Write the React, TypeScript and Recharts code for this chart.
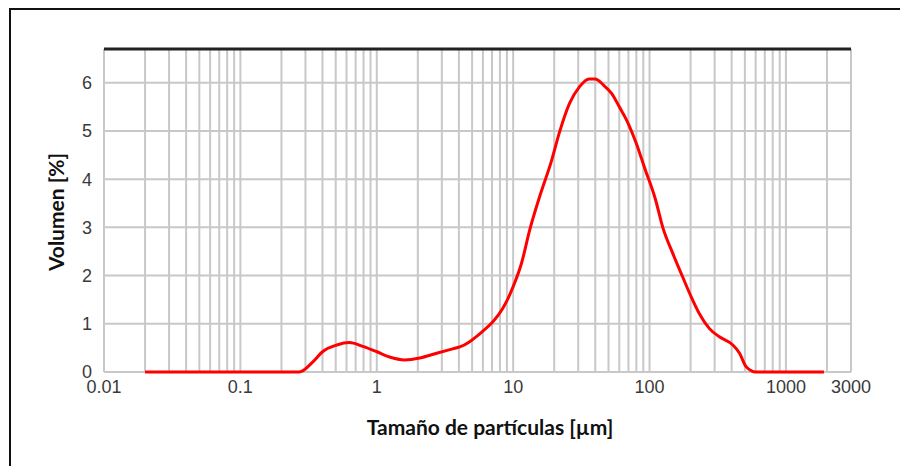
import React from 'react';
import { LineChart, Line, XAxis, YAxis, CartesianGrid, ReferenceLine } from 'recharts';

const particleSizes = [
  0.02, 0.27, 0.34, 0.4, 0.51, 0.63, 0.79, 1.0, 1.24, 1.6, 2.07, 2.75, 3.6, 4.06, 4.8, 5.4, 6.0, 7.1, 8.4,
  10, 11.5, 13.2, 15.6, 19.1, 21.9, 25.9, 30.7, 36, 40, 46, 53, 60, 68, 80, 95, 100, 110, 125, 148, 175,
  202, 232, 275, 325, 408, 457, 511, 604, 1900,
];
const volumes = [
  0, 0, 0.21, 0.42, 0.56, 0.61, 0.53, 0.42, 0.31, 0.25, 0.29, 0.39, 0.48, 0.52, 0.63, 0.74, 0.85, 1.04, 1.32,
  1.77, 2.25, 2.94, 3.63, 4.38, 4.98, 5.57, 5.92, 6.08, 6.08, 5.95, 5.77, 5.5, 5.22, 4.74, 4.12, 3.95, 3.6,
  3.0, 2.46, 1.97, 1.56, 1.21, 0.9, 0.73, 0.56, 0.39, 0.11, 0, 0,
];

const gridTicksX = [
  0.01, 0.02, 0.03, 0.04, 0.05, 0.06, 0.07, 0.08, 0.09,
  0.1, 0.2, 0.3, 0.4, 0.5, 0.6, 0.7, 0.8, 0.9,
  1, 2, 3, 4, 5, 6, 7, 8, 9,
  10, 20, 30, 40, 50, 60, 70, 80, 90,
  100, 200, 300, 400, 500, 600, 700, 800, 900,
  1000, 2000, 3000,
];
const labeledTicksX = [0.01, 0.1, 1, 10, 100, 1000, 3000];
const ticksY = [0, 1, 2, 3, 4, 5, 6];
const yMax = 6.7;

const xTitle = 'Tamaño de partículas [µm]';
const yTitle = 'Volumen [%]';

const data = particleSizes.map((s, i) => ({ size: s, vol: volumes[i] }));

const tickStyle = { fontFamily: '"Liberation Sans", Arial, sans-serif', fontSize: 18, fill: '#3a3a3a' };

export default function App() {
  return (
    <div style={{ position: 'absolute', left: 0, top: 0, width: 900, height: 466, overflow: 'hidden', background: '#fff' }}>
      <div style={{ position: 'absolute', left: 9, top: 8, width: 1200, height: 1200, border: '2px solid #111' }} />
      <div style={{ position: 'absolute', left: 0, top: 0 }}>
        <LineChart width={900} height={466} data={data} margin={{ top: 49, right: 49, bottom: 64, left: 44 }}>
          <CartesianGrid stroke="#c8c8c8" strokeWidth={2} />
          <XAxis
            dataKey="size"
            type="number"
            scale="log"
            domain={[0.01, 3000]}
            ticks={gridTicksX}
            interval={0}
            allowDataOverflow
            tickFormatter={(v: number) => (labeledTicksX.includes(v) ? String(v) : '')}
            tick={tickStyle}
            tickLine={false}
            tickSize={0}
            tickMargin={8}
            axisLine={false}
            height={30}
          />
          <YAxis
            type="number"
            domain={[0, yMax]}
            ticks={ticksY}
            interval={0}
            tick={tickStyle}
            tickLine={false}
            tickSize={0}
            tickMargin={12}
            axisLine={false}
            width={60}
          />
          <ReferenceLine y={yMax} stroke="#222" strokeWidth={3} />
          <Line
            type="monotone"
            dataKey="vol"
            stroke="#ff0000"
            strokeWidth={3}
            dot={false}
            isAnimationActive={false}
          />
        </LineChart>
      </div>
      <div
        style={{
          position: 'absolute',
          left: 490,
          top: 426,
          transform: 'translate(-50%, -50%)',
          whiteSpace: 'nowrap',
          fontFamily: 'Lato, "Open Sans", sans-serif',
          fontWeight: 700,
          fontSize: 21,
          color: '#111',
        }}
      >
        {xTitle}
      </div>
      <div
        style={{
          position: 'absolute',
          left: 55,
          top: 212,
          transform: 'translate(-50%, -50%) rotate(-90deg)',
          whiteSpace: 'nowrap',
          fontFamily: 'Lato, "Open Sans", sans-serif',
          fontWeight: 700,
          fontSize: 21,
          color: '#111',
        }}
      >
        {yTitle}
      </div>
    </div>
  );
}
